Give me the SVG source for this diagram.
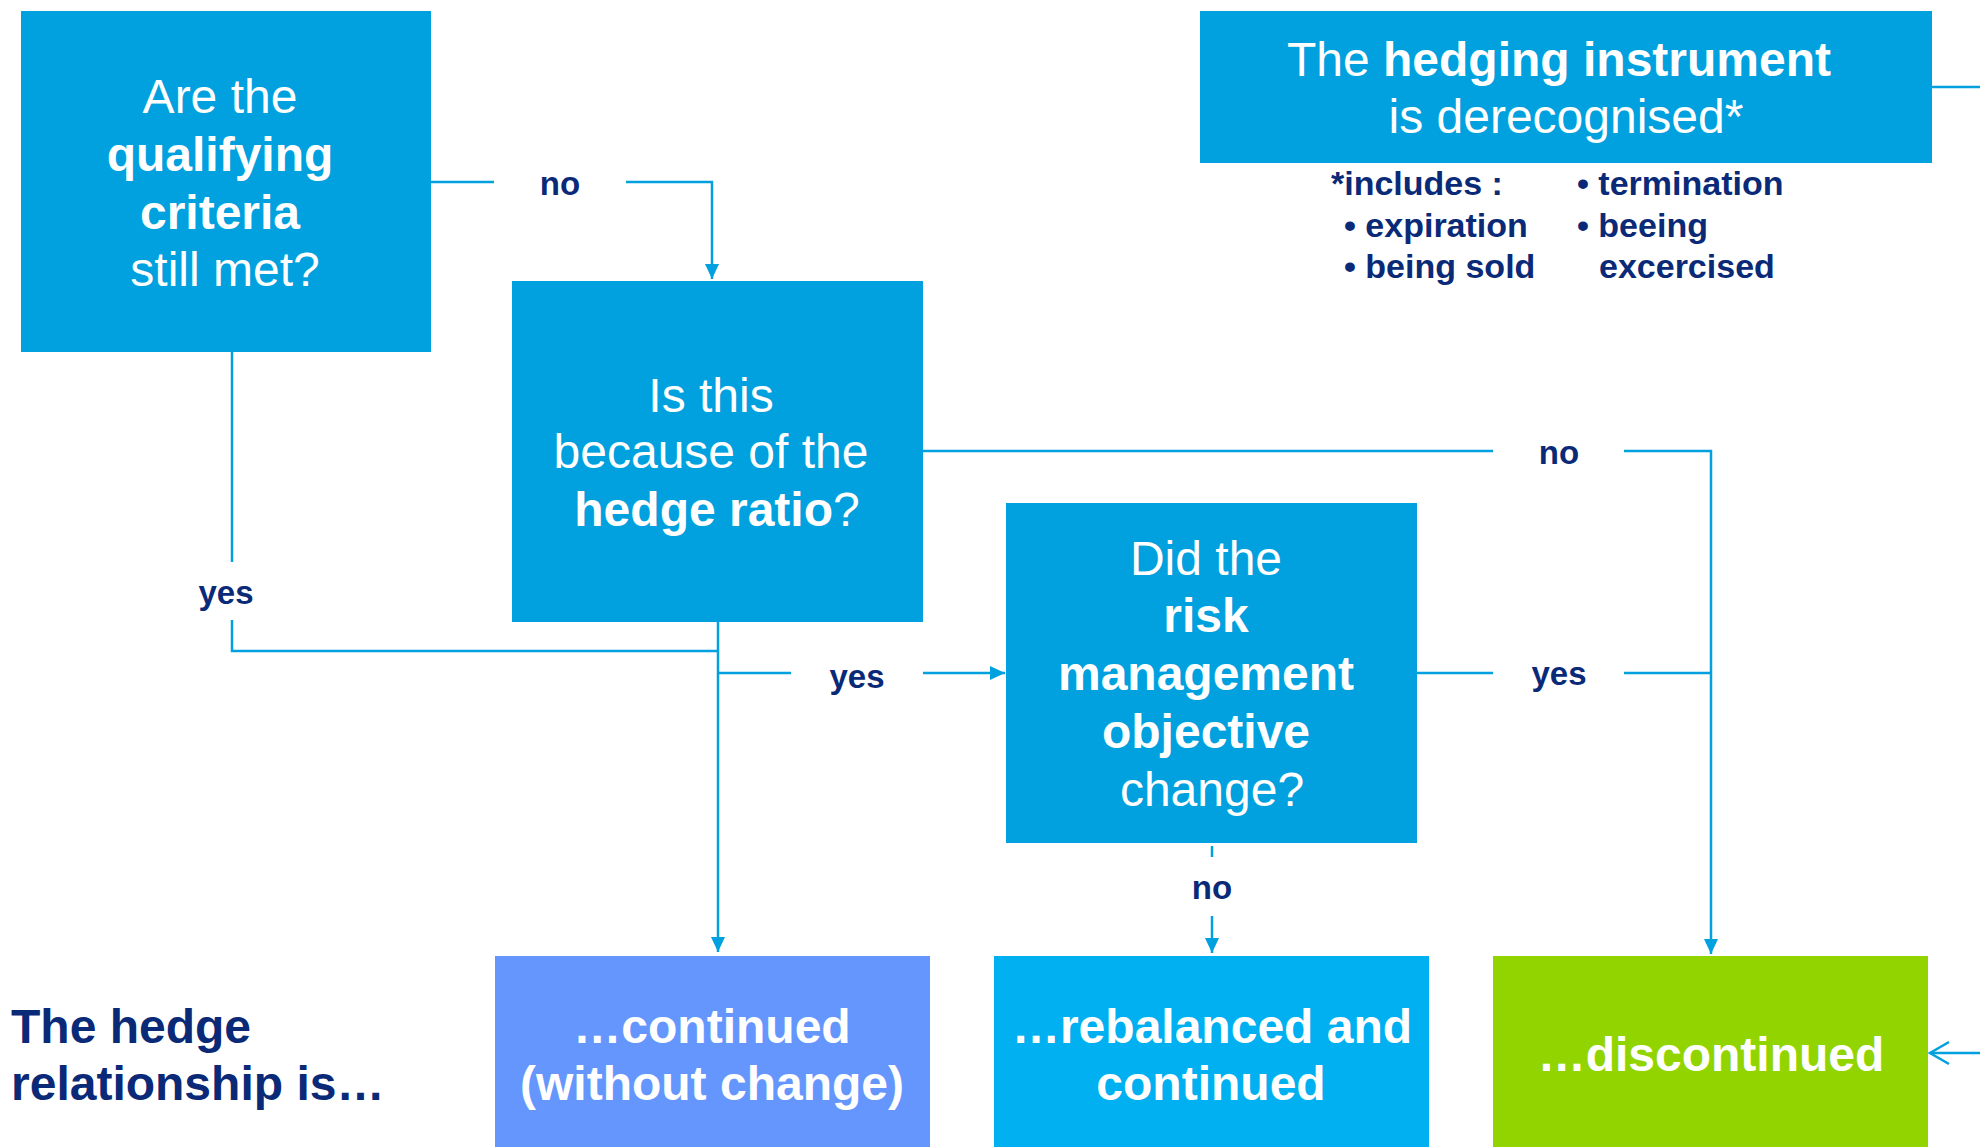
<svg xmlns="http://www.w3.org/2000/svg" width="1980" height="1147" viewBox="0 0 1980 1147">
<style>
.q{fill:#00A1DE}
.t{font-family:"Liberation Sans",Arial,sans-serif;font-size:48px;fill:#fff;text-anchor:middle}
.b{font-weight:bold}
.lbl{font-family:"Liberation Sans",Arial,sans-serif;font-size:33px;font-weight:bold;fill:#0A2A78;text-anchor:middle}
.fn{font-family:"Liberation Sans",Arial,sans-serif;font-size:34px;font-weight:bold;fill:#0A2A78}
.ln{fill:none;stroke:#00A1DE;stroke-width:2.5}
</style>
<defs>
<marker id="ah" markerUnits="userSpaceOnUse" markerWidth="16" markerHeight="14" refX="15" refY="7" orient="auto">
<path d="M0,0 L15,7 L0,14 z" fill="#00A1DE"/>
</marker>
</defs>
<rect width="1980" height="1147" fill="#fff"/>

<g id="connectors">
<path class="ln" d="M431,182 H494"/>
<path class="ln" d="M626,182 H712 V279" marker-end="url(#ah)"/>
<path class="ln" d="M232,352 V562"/>
<path class="ln" d="M232,620 V651 H718"/>
<path class="ln" d="M718,622 V952" marker-end="url(#ah)"/>
<path class="ln" d="M718,673 H791"/>
<path class="ln" d="M923,673 H1005" marker-end="url(#ah)"/>
<path class="ln" d="M923,451 H1493"/>
<path class="ln" d="M1624,451 H1711 V954" marker-end="url(#ah)"/>
<path class="ln" d="M1417,673 H1493"/>
<path class="ln" d="M1624,673 H1711"/>
<path class="ln" d="M1212,846 V857"/>
<path class="ln" d="M1212,916 V953" marker-end="url(#ah)"/>
<path class="ln" d="M1932,87 H1980"/>
<path class="ln" d="M1980,1053 H1930"/>
<polyline class="ln" points="1949,1042 1930,1053 1949,1064"/>
<text class="lbl" x="560" y="195">no</text>
<text class="lbl" x="1559" y="464">no</text>
<text class="lbl" x="1559" y="685">yes</text>
<text class="lbl" x="226" y="604">yes</text>
<text class="lbl" x="857" y="688">yes</text>
<text class="lbl" x="1212" y="899">no</text>
</g>

<g id="criteria">
<rect class="q" x="21" y="11" width="410" height="341"/>
<text class="t" x="220" y="113">Are the</text>
<text class="t b" x="220" y="171">qualifying</text>
<text class="t b" x="220" y="229">criteria</text>
<text class="t" x="225" y="286">still met?</text>
</g>

<g id="hedge-ratio">
<rect class="q" x="512" y="281" width="411" height="341"/>
<text class="t" x="711" y="412">Is this</text>
<text class="t" x="711" y="468">because of the</text>
<text class="t" x="717" y="526"><tspan class="b">hedge ratio</tspan>?</text>
</g>

<g id="risk-objective">
<rect class="q" x="1006" y="503" width="411" height="340"/>
<text class="t" x="1206" y="575">Did the</text>
<text class="t b" x="1206" y="632">risk</text>
<text class="t b" x="1206" y="690">management</text>
<text class="t b" x="1206" y="748">objective</text>
<text class="t" x="1212" y="806">change?</text>
</g>

<g id="derecognised">
<rect class="q" x="1200" y="11" width="732" height="152"/>
<text class="t" x="1559" y="76">The <tspan class="b">hedging instrument</tspan></text>
<text class="t" x="1566" y="133">is derecognised*</text>
<text class="fn" x="1331" y="195">*includes :</text>
<text class="fn" x="1344" y="237">• expiration</text>
<text class="fn" x="1344" y="278">• being sold</text>
<text class="fn" x="1577" y="195">• termination</text>
<text class="fn" x="1577" y="237">• beeing</text>
<text class="fn" x="1599" y="278">excercised</text>
</g>

<g id="caption">
<text class="fn" x="11" y="1043" style="font-size:48px">The hedge</text>
<text class="fn" x="11" y="1100" style="font-size:48px">relationship is…</text>
</g>

<g id="continued">
<rect x="495" y="956" width="435" height="191" fill="#6596FD"/>
<text class="t b" x="712" y="1043">…continued</text>
<text class="t b" x="712" y="1100">(without change)</text>
</g>

<g id="rebalanced">
<rect x="994" y="956" width="435" height="191" fill="#00B0F0"/>
<text class="t b" x="1212" y="1043">…rebalanced and</text>
<text class="t b" x="1211" y="1100">continued</text>
</g>

<g id="discontinued">
<rect x="1493" y="956" width="435" height="191" fill="#92D400"/>
<text class="t b" x="1711" y="1071">…discontinued</text>
</g>
</svg>
